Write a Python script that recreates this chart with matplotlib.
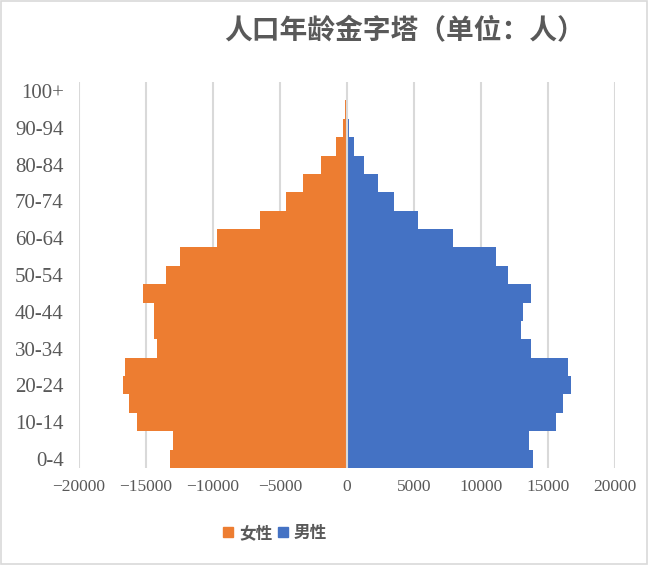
import numpy as np
import matplotlib.pyplot as plt
from matplotlib.patches import Patch

ages = ["0-4", "5-9", "10-14", "15-19", "20-24", "25-29", "30-34", "35-39",
        "40-44", "45-49", "50-54", "55-59", "60-64", "65-69", "70-74",
        "75-79", "80-84", "85-89", "90-94", "95-99", "100+"]
female = [-13200, -12950, -15650, -16300, -16750, -16550, -14150, -14380,
          -14400, -15200, -13500, -12500, -9700, -6500, -4550,
          -3300, -1950, -820, -300, -150, -15]
male = [13850, 13600, 15600, 16150, 16700, 16500, 13750, 13000,
        13150, 13700, 12050, 11100, 7900, 5300, 3500,
        2300, 1250, 500, 180, 40, 5]
xticks = [-20000, -15000, -10000, -5000, 0, 5000, 10000, 15000, 20000]

orange = "#ED7D31"
blue = "#4472C4"
grid_c = "#D9D9D9"
text_c = "#595959"

fig = plt.figure(figsize=(6.48, 5.65), dpi=100)
ax = fig.add_axes([79/648, 1 - 468/565, (615-79)/648, (468-82)/565])

y = np.arange(len(ages))
ax.barh(y, female, height=1.0, color=orange, zorder=2)
ax.barh(y, male, height=1.0, color=blue, zorder=2)

# gridlines, the zero one sits on top of the bars
for v in xticks:
    ax.axvline(v, color=grid_c, lw=1.5, zorder=3 if v == 0 else 1)

ax.set_xlim(-20000, 20000)
ax.set_ylim(-0.5, len(ages) - 0.5)
ax.set_xticks(xticks)
ax.set_xticklabels([("\u2212" + str(-v)) if v < 0 else str(v) for v in xticks],
                   family="Liberation Serif", fontsize=12.5, color=text_c)
ax.set_yticks(y[::2])
ax.set_yticklabels(ages[::2], family="Liberation Serif", fontsize=15,
                   color=text_c)
ax.tick_params(length=0)
ax.tick_params(axis="x", pad=8)
ax.tick_params(axis="y", pad=11)
for s in ax.spines.values():
    s.set_visible(False)

fig.text(405/648, 1 - 31/565, "人口年龄金字塔（单位：人）", ha="center", va="center",
         family=["Noto Sans CJK SC", "DejaVu Sans"], fontsize=20,
         fontweight="bold", color=text_c)

handles = [Patch(color=orange, label="女性"), Patch(color=blue, label="男性")]
fig.legend(handles=handles, loc="center", bbox_to_anchor=(275/648, 1 - 533/565),
           ncol=2, frameon=False, handlelength=0.6, handleheight=0.6,
           handletextpad=0.35, columnspacing=0.3,
           prop={"family": ["Noto Sans CJK SC", "DejaVu Sans"], "size": 12,
                 "weight": "bold"}, labelcolor=text_c)

# light border of the chart area
fig.patches.append(plt.Rectangle((0.002, 0.002), 0.996, 0.996, transform=fig.transFigure,
                                 fill=False, edgecolor=grid_c, lw=1.2))

fig.savefig("out.png", dpi=100)
